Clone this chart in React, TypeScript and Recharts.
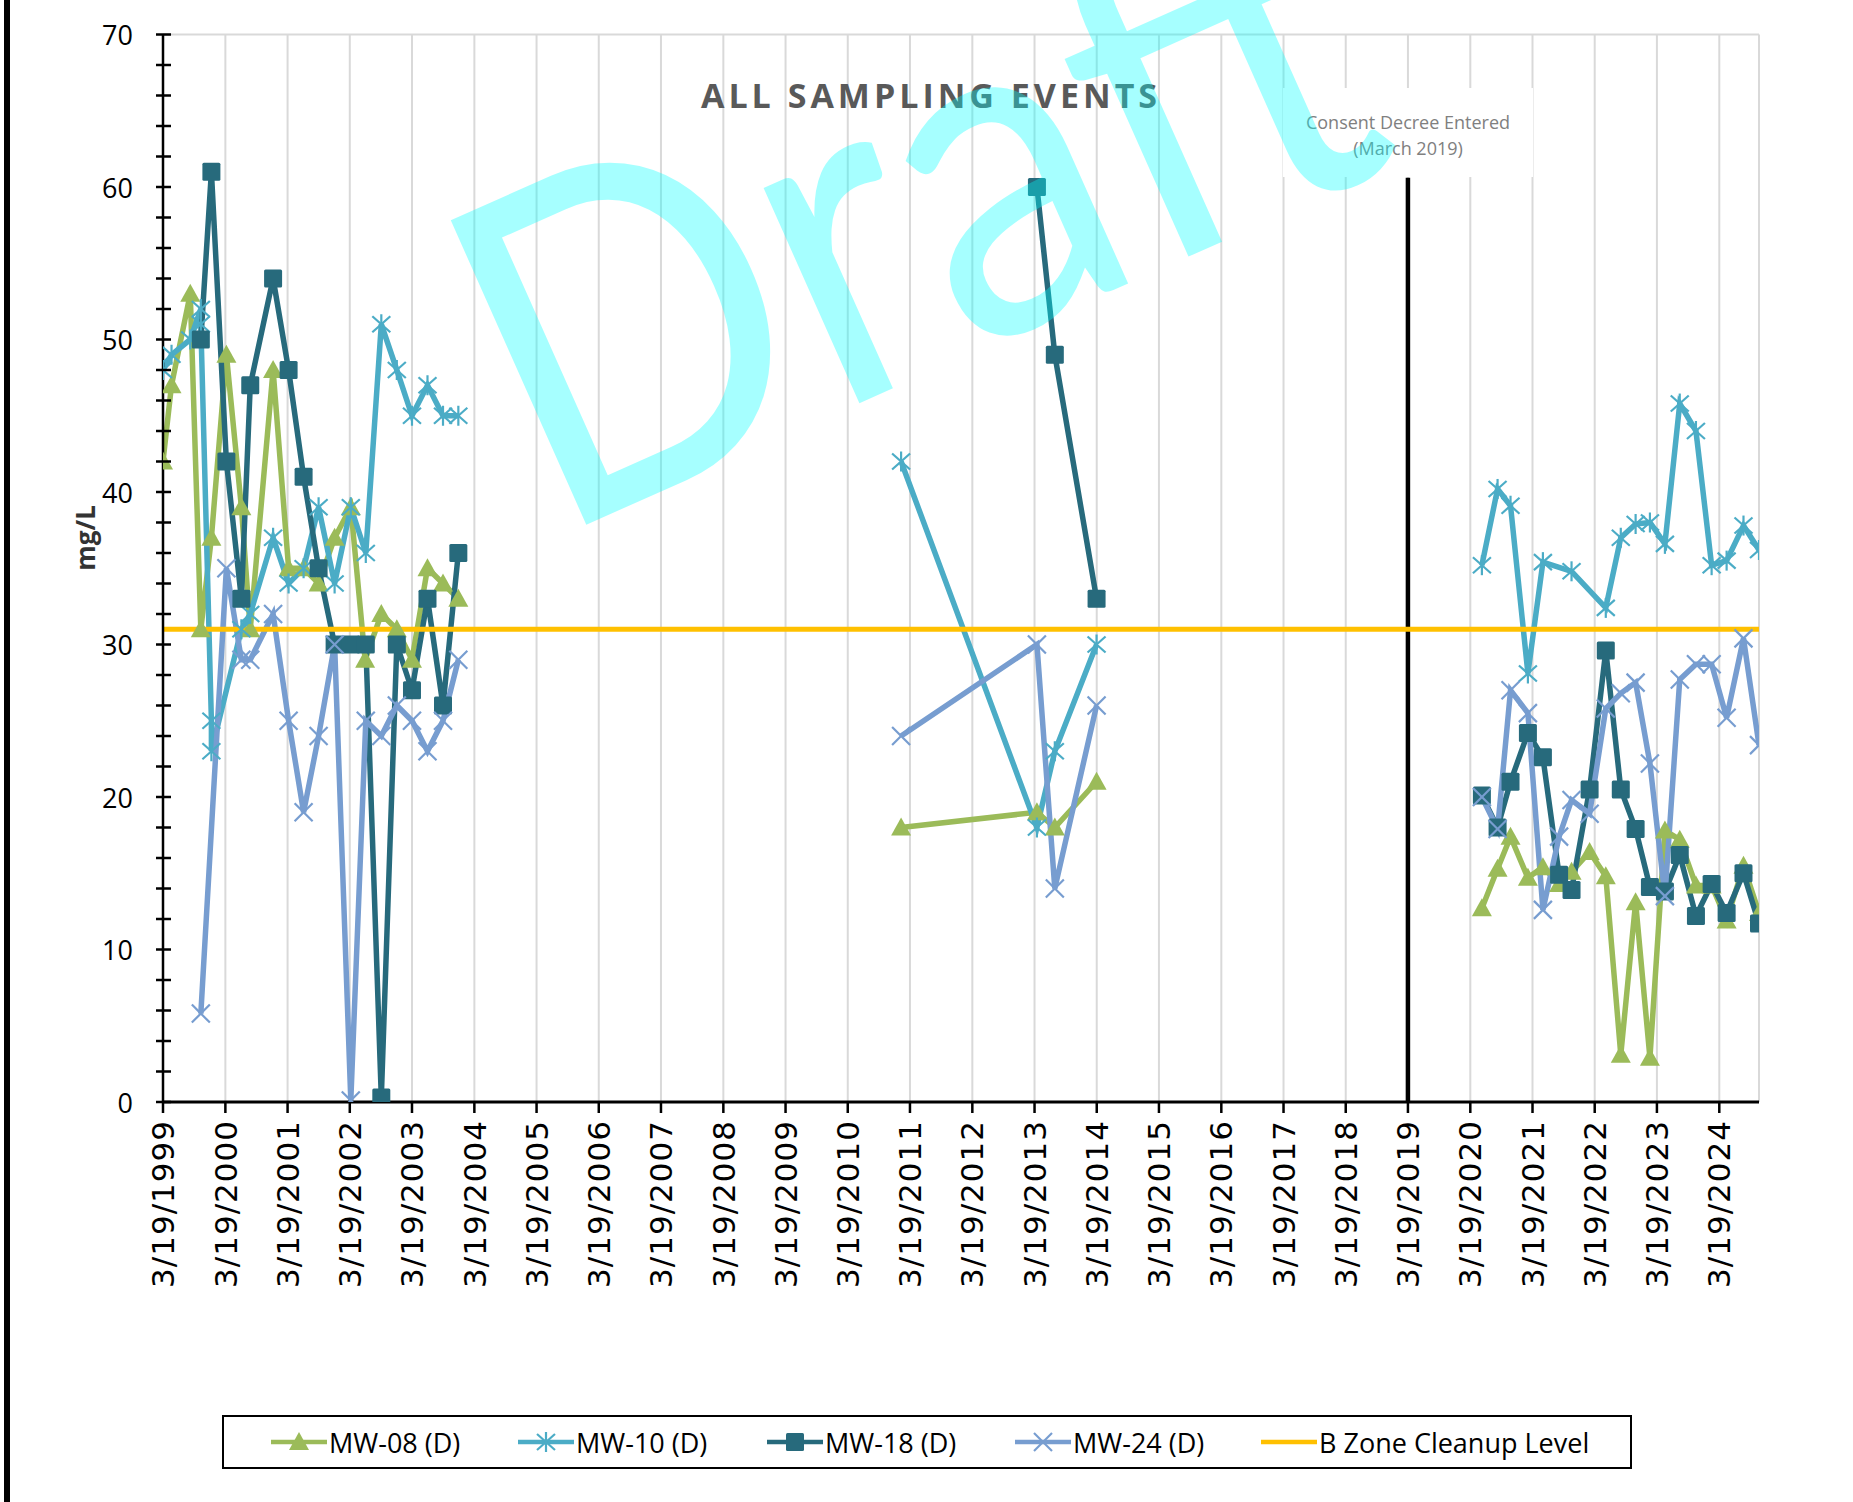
import React from 'react';
import { LineChart, Line, XAxis, YAxis, CartesianGrid } from 'recharts';

// sampling dates per well
const MW08_DATES = [
  '1999-03-19', '1999-05-08', '1999-08-26', '1999-10-27', '1999-12-28', '2000-03-25', '2000-06-21',
  '2000-08-12', '2000-12-24', '2001-03-25', '2001-06-21', '2001-09-17', '2001-12-20', '2002-03-25',
  '2002-06-17', '2002-09-20', '2002-12-20', '2003-03-19', '2003-06-18', '2003-09-17', '2003-12-16',
  '2011-01-26', '2013-04-02', '2013-07-16', '2014-03-18',
  '2020-05-26', '2020-08-26', '2020-11-10', '2021-02-20', '2021-05-19', '2021-08-22', '2021-11-03',
  '2022-02-17', '2022-05-23', '2022-08-19', '2022-11-14', '2023-02-06', '2023-05-05', '2023-07-31',
  '2023-11-03', '2024-02-03', '2024-05-01', '2024-08-08', '2024-11-07',
];
const MW08_MGL = [
  42, 47, 53, 31, 37, 49, 39, 31, 48, 35, 35, 34, 37, 39, 29, 32, 31, 29, 35, 34, 33,
  18, 19, 18, 21,
  12.7, 15.3, 17.4, 14.7, 15.4, 14.3, 15.1, 16.4, 14.8, 3.1, 13.1, 2.9, 17.8, 17.2, 14.2, 14.2, 11.9, 15.5, 12.4,
];

const MW10_DATES = [
  '1999-03-19', '1999-05-08', '1999-08-26', '1999-10-27', '1999-10-27', '1999-12-28', '1999-12-28',
  '2000-06-21', '2000-08-12', '2000-12-24', '2001-03-25', '2001-06-21', '2001-09-17', '2001-12-20',
  '2002-03-25', '2002-06-21', '2002-09-20', '2002-12-20', '2003-03-19', '2003-06-18', '2003-09-17',
  '2003-12-16',
  '2011-01-26', '2013-04-02', '2013-07-16', '2014-03-18',
  '2020-05-26', '2020-08-26', '2020-11-10', '2021-02-20', '2021-05-19', '2021-11-03', '2022-05-23',
  '2022-08-19', '2022-11-14', '2023-02-06', '2023-05-05', '2023-07-31', '2023-11-03', '2024-02-03',
  '2024-05-01', '2024-08-08', '2024-11-07',
];
const MW10_MGL = [
  48, 49, 50, 52, 51, 25, 23, 31, 32, 37, 34, 35, 39, 34, 39, 36, 51, 48, 45, 47, 45, 45,
  42, 18, 23, 30,
  35.2, 40.2, 39.1, 28.1, 35.4, 34.8, 32.4, 37.0, 37.9, 38.0, 36.6, 45.8, 44.0, 35.2, 35.5, 37.8, 36.2,
];

const MW18_DATES = [
  '1999-10-27', '1999-12-28', '2000-03-25', '2000-06-21', '2000-08-12', '2000-12-24', '2001-03-25',
  '2001-06-21', '2001-09-17', '2001-12-20', '2002-03-25', '2002-06-21', '2002-09-20', '2002-12-20',
  '2003-03-19', '2003-06-18', '2003-09-17', '2003-12-16',
  '2013-04-02', '2013-07-16', '2014-03-18',
  '2020-05-26', '2020-08-26', '2020-11-10', '2021-02-20', '2021-05-19', '2021-08-22', '2021-11-03',
  '2022-02-17', '2022-05-23', '2022-08-19', '2022-11-14', '2023-02-06', '2023-05-05', '2023-07-31',
  '2023-11-03', '2024-02-03', '2024-05-01', '2024-08-08', '2024-11-07',
];
const MW18_MGL = [
  50, 61, 42, 33, 47, 54, 48, 41, 35, 30, 30, 30, 0.3, 30, 27, 33, 26, 36,
  60, 49, 33,
  20.1, 18.0, 21.0, 24.2, 22.6, 14.9, 13.9, 20.5, 29.6, 20.5, 17.9, 14.1, 13.8, 16.2, 12.2, 14.3, 12.4, 15.0, 11.7,
];

const MW24_DATES = [
  '1999-10-27', '2000-03-25', '2000-06-21', '2000-08-12', '2000-12-24', '2001-03-25', '2001-06-21',
  '2001-09-17', '2001-12-20', '2002-03-25', '2002-06-21', '2002-09-20', '2002-12-20', '2003-03-19',
  '2003-06-18', '2003-09-17', '2003-12-16',
  '2011-01-26', '2013-04-02', '2013-07-16', '2014-03-18',
  '2020-05-26', '2020-08-26', '2020-11-10', '2021-02-20', '2021-05-19', '2021-08-22', '2021-11-03',
  '2022-02-17', '2022-05-23', '2022-08-19', '2022-11-14', '2023-02-06', '2023-05-05', '2023-07-31',
  '2023-11-03', '2024-02-03', '2024-05-01', '2024-08-08', '2024-11-07',
];
const MW24_MGL = [
  5.8, 35, 29, 29, 32, 25, 19, 24, 30, 0.1, 25, 24, 26, 25, 23, 25, 29,
  24, 30, 14, 26,
  20.0, 17.9, 27.0, 25.5, 12.6, 17.4, 19.8, 18.9, 25.8, 26.8, 27.5, 22.2, 13.5, 27.7, 28.7, 28.7, 25.2, 30.4, 23.4,
];

const CLEANUP_LEVEL = 31;
const DECREE_DATE = '2019-03-19';
const DECREE_TOP = 60.6;
const AXIS_START = '1999-03-19';
const AXIS_END = '2024-11-07';
const TICK_YEARS = Array.from({ length: 26 }, (_, i) => 1999 + i);
const Y_TICKS = Array.from({ length: 36 }, (_, i) => i * 2);
const Y_GRID = [0, 10, 20, 30, 40, 50, 60, 70];

const GREEN = '#9BBB59';
const AQUA = '#4BACC6';
const TEAL = '#276A7C';
const LAVENDER = '#779DD0';
const GOLD = '#FFC000';
const LINE_W = 5.5;

const YEAR_MS = 365.25 * 24 * 3600 * 1000;
const xMin = Date.parse(AXIS_START);
const xMax = Date.parse(AXIS_END);
const xTicks = TICK_YEARS.map((y) => Date.UTC(y, 2, 19));

// break the line between the far-apart sampling campaigns
const build = (dates: string[], vals: number[]) => {
  const pts: { x: number; y: number | null }[] = [];
  dates.forEach((d, i) => {
    const x = Date.parse(d);
    const prev = pts[pts.length - 1];
    if (prev && x - prev.x > 3 * YEAR_MS) pts.push({ x: (x + prev.x) / 2, y: null });
    pts.push({ x, y: vals[i] });
  });
  return pts;
};

const mw08 = build(MW08_DATES, MW08_MGL);
const mw10 = build(MW10_DATES, MW10_MGL);
const mw18 = build(MW18_DATES, MW18_MGL);
const mw24 = build(MW24_DATES, MW24_MGL);
const cleanup = [{ x: xMin, y: CLEANUP_LEVEL }, { x: xMax, y: CLEANUP_LEVEL }];
const decree = [{ x: Date.parse(DECREE_DATE), y: 0 }, { x: Date.parse(DECREE_DATE), y: DECREE_TOP }];

const Triangle = ({ cx, cy, color }: any) => (
  <polygon points={`${cx},${cy - 10} ${cx - 10},${cy + 8} ${cx + 10},${cy + 8}`} fill={color} />
);
const Square = ({ cx, cy, color }: any) => (
  <rect x={cx - 9} y={cy - 9} width={18} height={18} rx={1.5} fill={color} />
);
const Star = ({ cx, cy, color }: any) => (
  <g stroke={color} strokeWidth={2.2}>
    <line x1={cx - 9} y1={cy - 8} x2={cx + 9} y2={cy + 8} />
    <line x1={cx - 9} y1={cy + 8} x2={cx + 9} y2={cy - 8} />
    <line x1={cx} y1={cy - 10} x2={cx} y2={cy + 10} />
  </g>
);
const Cross = ({ cx, cy, color }: any) => (
  <g stroke={color} strokeWidth={2.2}>
    <line x1={cx - 9} y1={cy - 9} x2={cx + 9} y2={cy + 9} />
    <line x1={cx - 9} y1={cy + 9} x2={cx + 9} y2={cy - 9} />
  </g>
);

const dotOf = (Shape: any, color: string) => (p: any) => {
  if (p.value == null || p.cy == null || isNaN(p.cy)) return <g key={p.key} />;
  return (
    <g key={p.key}>
      <Shape cx={p.cx} cy={p.cy} color={color} />
    </g>
  );
};

const fmt = (t: number) => {
  const d = new Date(t);
  return `${d.getUTCMonth() + 1}/${d.getUTCDate()}/${d.getUTCFullYear()}`;
};

const YTick = ({ x, y, payload }: any) => (
  <g>
    <line x1={x - 7} x2={x + 8} y1={y} y2={y} stroke="#000" strokeWidth={2.5} />
    {payload.value % 10 === 0 && (
      <text x={x - 30} y={y} textAnchor="end" dominantBaseline="central" fontSize={27}
        fontFamily="'Open Sans', sans-serif" fill="#000">
        {payload.value}
      </text>
    )}
  </g>
);

const XTick = ({ x, y, payload }: any) => (
  <g>
    <line x1={x} x2={x} y1={y} y2={y + 11} stroke="#000" strokeWidth={2.5} />
    <text x={x} y={y + 18} dy="0.36em" textAnchor="end" transform={`rotate(-90, ${x}, ${y + 18})`}
      fontSize={31} letterSpacing={1} fontFamily="'DejaVu Sans', sans-serif" fill="#000">
      {fmt(payload.value)}
    </text>
  </g>
);

const legendItems = [
  { name: 'MW-08 (D)', color: GREEN, Shape: Triangle, left: 269 },
  { name: 'MW-10 (D)', color: AQUA, Shape: Star, left: 516 },
  { name: 'MW-18 (D)', color: TEAL, Shape: Square, left: 765 },
  { name: 'MW-24 (D)', color: LAVENDER, Shape: Cross, left: 1013 },
  { name: 'B Zone Cleanup Level', color: GOLD, Shape: null, left: 1259 },
];

export default function App() {
  return (
    <div style={{ position: 'absolute', left: 0, top: 0, width: 1853, height: 1502, background: '#fff', overflow: 'hidden' }}>
      <LineChart width={1853} height={1502} margin={{ top: 34.5, right: 94, bottom: 200, left: 63 }}>
        <CartesianGrid stroke="#D9D9D9" strokeWidth={2} yAxisId="right" />
        <XAxis dataKey="x" type="number" domain={[xMin, xMax]} allowDataOverflow ticks={xTicks}
          interval={0} height={200} tickSize={0} tickMargin={0} tick={<XTick />}
          axisLine={{ stroke: '#000', strokeWidth: 3 }} tickLine={false} />
        <XAxis xAxisId="top" orientation="top" type="number" domain={[xMin, xMax]} allowDataOverflow
          height={0} tick={false} tickLine={false} axisLine={{ stroke: '#000', strokeWidth: 2.5 }} />
        <YAxis type="number" domain={[0, 70]} allowDataOverflow ticks={Y_TICKS} interval={0} width={100}
          tickSize={0} tickMargin={0} tick={<YTick />} tickLine={false}
          axisLine={{ stroke: '#000', strokeWidth: 2.5 }} />
        <YAxis yAxisId="right" orientation="right" type="number" domain={[0, 70]} allowDataOverflow
          ticks={Y_GRID} interval={0} width={0} tick={false} tickLine={false}
          axisLine={{ stroke: '#BFBFBF', strokeWidth: 2 }} />
        <Line data={decree} dataKey="y" stroke="#000" strokeWidth={4.5} dot={false} isAnimationActive={false} />
        <Line data={mw08} dataKey="y" stroke={GREEN} strokeWidth={LINE_W} dot={dotOf(Triangle, GREEN)}
          activeDot={false} isAnimationActive={false} />
        <Line data={mw10} dataKey="y" stroke={AQUA} strokeWidth={LINE_W} dot={dotOf(Star, AQUA)}
          activeDot={false} isAnimationActive={false} />
        <Line data={mw18} dataKey="y" stroke={TEAL} strokeWidth={LINE_W} dot={dotOf(Square, TEAL)}
          activeDot={false} isAnimationActive={false} />
        <Line data={mw24} dataKey="y" stroke={LAVENDER} strokeWidth={LINE_W} dot={dotOf(Cross, LAVENDER)}
          activeDot={false} isAnimationActive={false} />
        <Line data={cleanup} dataKey="y" stroke={GOLD} strokeWidth={5} dot={false} isAnimationActive={false} />
      </LineChart>

      <div style={{ position: 'absolute', left: 4, top: 0, width: 6, height: 1502, background: '#000' }} />

      <div style={{
        position: 'absolute', left: 631, width: 600, top: 72, textAlign: 'center', fontFamily: "'Open Sans', sans-serif",
        fontWeight: 700, fontSize: 34, letterSpacing: 4, color: '#595959', lineHeight: '46px',
      }}>
        ALL SAMPLING EVENTS
      </div>

      <div style={{
        position: 'absolute', left: 85, top: 538, transform: 'translate(-50%, -50%) rotate(-90deg)',
        fontFamily: "'Open Sans', sans-serif", fontWeight: 700, fontSize: 26, color: '#333', whiteSpace: 'nowrap',
      }}>
        mg/L
      </div>

      <div style={{
        position: 'absolute', left: 1283, top: 88, width: 250, height: 89, background: '#fff',
        fontFamily: "'Open Sans', sans-serif", fontSize: 18, color: '#808080', textAlign: 'center',
        lineHeight: '26px', paddingTop: 21, boxSizing: 'border-box',
      }}>
        Consent Decree Entered<br />(March 2019)
      </div>

      <div style={{
        position: 'absolute', left: 222, top: 1415, width: 1410, height: 54, border: '2px solid #000',
        boxSizing: 'border-box', background: '#fff',
      }}>
        {legendItems.map((it) => (
          <div key={it.name} style={{ position: 'absolute', left: it.left - 222, top: 0, height: 50, display: 'flex', alignItems: 'center' }}>
            <svg width={56} height={24}>
              <line x1={0} x2={56} y1={12} y2={12} stroke={it.color} strokeWidth={4.5} />
              {it.Shape && <it.Shape cx={28} cy={12} color={it.color} />}
            </svg>
            <span style={{ fontFamily: "'Open Sans', sans-serif", fontSize: 27, color: '#000', marginLeft: 2, whiteSpace: 'nowrap' }}>
              {it.name}
            </span>
          </div>
        ))}
      </div>

      <svg width={1853} height={1502} style={{ position: 'absolute', left: 0, top: 0, pointerEvents: 'none' }}>
        <text x={552} y={540} transform="rotate(-24, 552, 540)" fontSize={465} fontFamily="Lato, sans-serif"
          fill="rgba(0,255,255,0.35)" textLength={935} lengthAdjust="spacingAndGlyphs">
          Draft
        </text>
      </svg>
    </div>
  );
}
